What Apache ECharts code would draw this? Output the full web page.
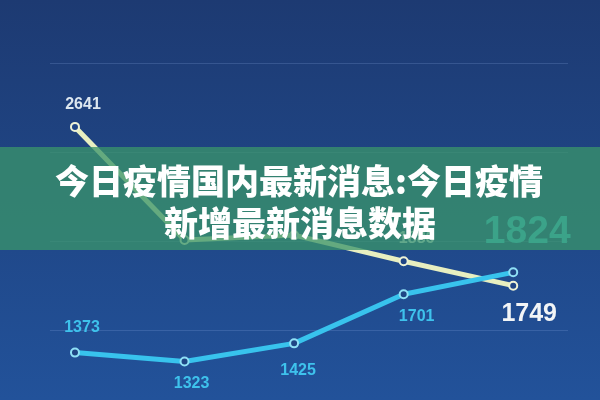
<!DOCTYPE html>
<html>
<head>
<meta charset="utf-8">
<script src="https://cdn.jsdelivr.net/npm/echarts@6/dist/echarts.min.js"></script>
<style>
html,body{margin:0;padding:0;background:#1f3f7a;}
#c{width:600px;height:400px;}
</style>
</head>
<body>
<div id="c"></div>
<script>
// Data
var categories = ['D1', 'D2', 'D3', 'D4', 'D5'];
var seriesA = [2641, 2006, 2033, 1886, 1749];   // pale yellow line
var seriesB = [1373, 1323, 1425, 1701, 1824];   // cyan line
var yTicks = [1500, 2000, 2500, 3000];
var titleLine1 = '今日疫情国内最新消息:今日疫情';
var titleLine2 = '新增最新消息数据';

var chart = echarts.init(document.getElementById('c'));

var smallFont = { fontSize: 16, fontWeight: 'bold', fontFamily: 'Liberation Sans, Arial, sans-serif' };

// label placement per point (style, separate from data)
var posA = [['top', [8, -4]], ['top', [0, 0]], ['top', [0, 0]], ['top', [13, -5]], ['bottom', [16, 6]]];
var posB = [['top', [7, -7]], ['bottom', [7, 4]], ['bottom', [4, 9]], ['bottom', [13, 4]], ['top', [14, -11]]];

function buildA() {
  return seriesA.map(function (v, i) {
    var item = { value: [i, v], label: { show: i === 0 || i === 3 || i === 4, position: posA[i][0], offset: posA[i][1] } };
    if (i === seriesA.length - 1) {
      item.label.fontSize = 25; item.label.color = '#f2f5f7';
    }
    return item;
  });
}
function buildB() {
  return seriesB.map(function (v, i) {
    var item = { value: [i, v], label: { show: true, position: posB[i][0], offset: posB[i][1] } };
    if (i === seriesB.length - 1) {
      item.label.fontSize = 39; item.label.color = '#40d0e8';
    }
    return item;
  });
}

var option = {
  animation: false,
  grid: { left: 50, right: 32, top: 63, bottom: 70 },
  xAxis: {
    type: 'value', min: -0.228, max: 4.5,
    axisLine: { show: false }, axisTick: { show: false }, axisLabel: { show: false }, splitLine: { show: false }
  },
  yAxis: {
    type: 'value', min: yTicks[0], max: yTicks[yTicks.length - 1], interval: 500,
    axisLine: { show: false }, axisTick: { show: false }, axisLabel: { show: false },
    splitLine: { lineStyle: { color: 'rgba(140,175,230,0.22)', width: 1 } }
  },
  graphic: [
    {
      type: 'rect', z: -10, silent: true,
      shape: { x: 0, y: 0, width: 600, height: 400 },
      style: {
        fill: new echarts.graphic.LinearGradient(0, 0, 0, 1, [
          { offset: 0, color: '#1d3a72' },
          { offset: 1, color: '#22529a' }
        ])
      }
    },
    {
      type: 'rect', z: 100, silent: true,
      shape: { x: 0, y: 147, width: 600, height: 103 },
      style: { fill: 'rgba(58,148,106,0.76)' }
    },
    {
      type: 'text', z: 101, silent: true, x: 299, y: 181,
      style: { text: titleLine1, fill: '#ffffff', font: '900 34px "Noto Sans CJK SC", sans-serif', align: 'center', verticalAlign: 'middle' }
    },
    {
      type: 'text', z: 101, silent: true, x: 300, y: 223,
      style: { text: titleLine2, fill: '#ffffff', font: '900 34px "Noto Sans CJK SC", sans-serif', align: 'center', verticalAlign: 'middle' }
    }
  ],
  series: [
    {
      type: 'line', clip: false, data: buildA(),
      symbol: 'circle', symbolSize: 8,
      lineStyle: { color: '#e8efc0', width: 5 },
      itemStyle: { color: '#1f4585', borderColor: '#eef3d6', borderWidth: 2 },
      label: Object.assign({ color: '#dde7f0' }, smallFont),
      z: 3
    },
    {
      type: 'line', clip: false, data: buildB(),
      symbol: 'circle', symbolSize: 8,
      lineStyle: { color: '#38c3ed', width: 5 },
      itemStyle: { color: '#1f4585', borderColor: '#8fe0f6', borderWidth: 2 },
      label: Object.assign({ color: '#3ec2ec' }, smallFont),
      z: 4
    }
  ]
};
chart.setOption(option);
</script>
</body>
</html>
